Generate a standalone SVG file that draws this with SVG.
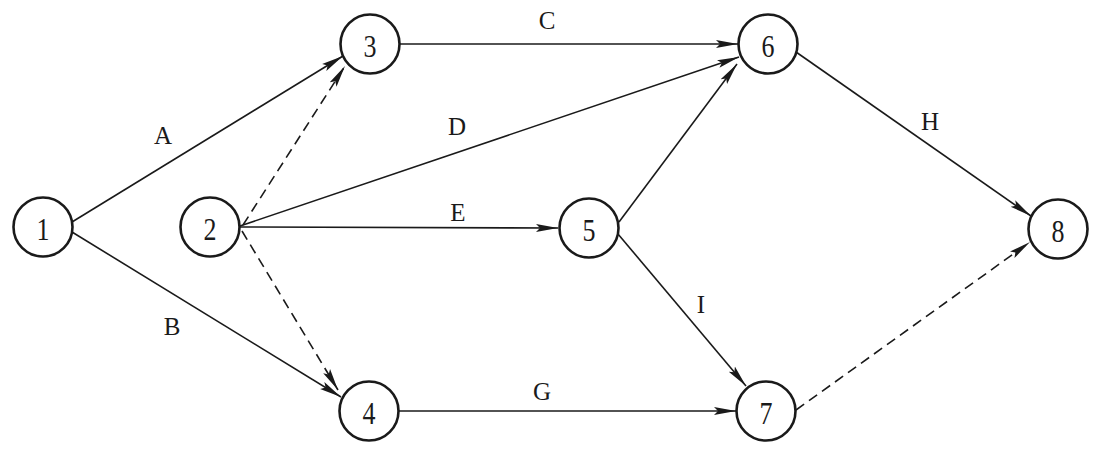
<svg xmlns="http://www.w3.org/2000/svg" width="1099" height="451" viewBox="0 0 1099 451">
<style>
.node circle{fill:#fff;stroke:#1a1a1a;stroke-width:2.6}
.node text{font-family:"Liberation Serif","Times New Roman",serif;font-size:26px;fill:#1a1a1a;text-anchor:middle;dominant-baseline:central}
.edge{stroke:#1a1a1a;stroke-width:1.6;fill:none;marker-end:url(#arr)}
.dash{stroke-dasharray:10 6}
.lbl{font-family:"Liberation Serif","Times New Roman",serif;font-size:25px;fill:#1a1a1a;text-anchor:middle}
</style>
<defs>
<marker id="arr" markerUnits="userSpaceOnUse" markerWidth="23" markerHeight="10" refX="22" refY="5" orient="auto">
<path d="M0,1 L22,5 L0,9 L4,5 Z" fill="#1a1a1a"/>
</marker>
</defs>
<rect width="1099" height="451" fill="#fff"/>
<g id="connectors">
<line class="edge" x1="72" y1="222" x2="343" y2="56"/>
<line class="edge" x1="72" y1="232" x2="341" y2="397"/>
<line class="edge dash" x1="243" y1="225" x2="345" y2="66"/>
<line class="edge dash" x1="242" y1="231" x2="338" y2="390"/>
<line class="edge" x1="399" y1="44" x2="738" y2="44"/>
<line class="edge" x1="240" y1="226" x2="739" y2="57"/>
<line class="edge" x1="240" y1="227" x2="558" y2="228"/>
<line class="edge" x1="619" y1="222" x2="737" y2="64"/>
<line class="edge" x1="618" y1="234" x2="746" y2="386"/>
<line class="edge" x1="399" y1="411" x2="736" y2="411"/>
<line class="edge" x1="796" y1="52" x2="1031" y2="216"/>
<line class="edge dash" x1="796" y1="410" x2="1030" y2="242"/>
</g>
<g id="labels">
<text class="lbl" x="163" y="144">A</text>
<text class="lbl" x="172" y="335">B</text>
<text class="lbl" x="547" y="29">C</text>
<text class="lbl" x="457" y="135">D</text>
<text class="lbl" x="458" y="221">E</text>
<text class="lbl" x="542" y="400">G</text>
<text class="lbl" x="930" y="130">H</text>
<text class="lbl" x="701" y="313">I</text>
</g>
<g id="n1" class="node"><circle cx="43" cy="227" r="29.5"/><text transform="translate(43,229) scale(1,1.2)">1</text></g>
<g id="n2" class="node"><circle cx="210" cy="227" r="29.5"/><text transform="translate(210,229) scale(1,1.2)">2</text></g>
<g id="n3" class="node"><circle cx="370" cy="44" r="29.5"/><text transform="translate(370,46) scale(1,1.2)">3</text></g>
<g id="n4" class="node"><circle cx="369" cy="411" r="29.5"/><text transform="translate(369,413) scale(1,1.2)">4</text></g>
<g id="n5" class="node"><circle cx="589" cy="228" r="29.5"/><text transform="translate(589,230) scale(1,1.2)">5</text></g>
<g id="n6" class="node"><circle cx="768" cy="44" r="29.5"/><text transform="translate(768,46) scale(1,1.2)">6</text></g>
<g id="n7" class="node"><circle cx="766" cy="411" r="29.5"/><text transform="translate(766,413) scale(1,1.2)">7</text></g>
<g id="n8" class="node"><circle cx="1058" cy="229" r="29.5"/><text transform="translate(1058,231) scale(1,1.2)">8</text></g>
</svg>
